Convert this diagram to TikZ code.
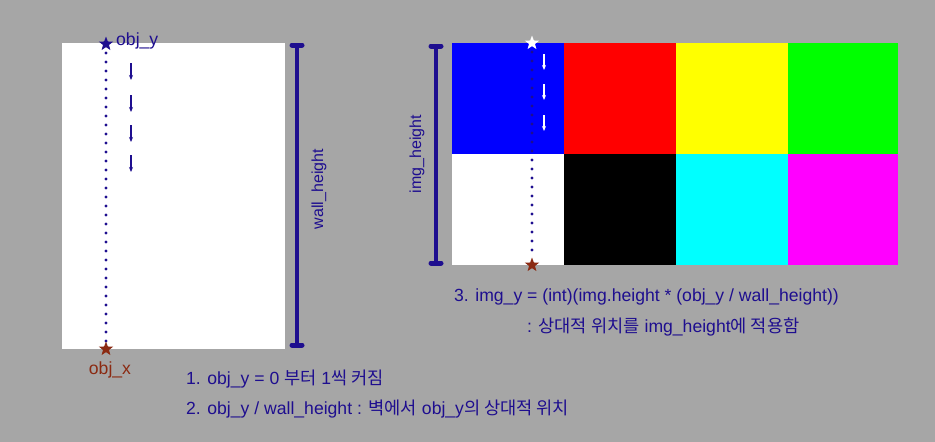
\documentclass[tikz,border=0pt]{standalone}
\usepackage{fontspec}
\setmainfont{Liberation Sans}
\newfontfamily\kr{Noto Sans CJK KR}
\usetikzlibrary{shapes.geometric,arrows.meta}
\definecolor{bg}{HTML}{A6A6A6}
\definecolor{navy}{HTML}{1E0E8F}
\definecolor{brn}{HTML}{8B2A12}
\definecolor{cblue}{HTML}{0000FF}
\definecolor{cred}{HTML}{FF0000}
\definecolor{cyel}{HTML}{FFFF00}
\definecolor{cgreen}{HTML}{00FF00}
\definecolor{ccyan}{HTML}{00FFFF}
\definecolor{cmag}{HTML}{FF00FF}
\tikzset{
  lbl/.style={font=\fontsize{17.6}{19}\selectfont, text=navy, inner sep=0pt},
  vlbl/.style={font=\fontsize{16}{18}\selectfont, text=navy, inner sep=0pt, rotate=90},
  starn/.style={star, star points=5, star point ratio=2.4, minimum size=15pt, inner sep=0pt, fill=#1, draw=none},
  dots/.style={navy, line width=3.4pt, line cap=round, dash pattern=on 0pt off 9pt},
  bar/.style={navy, line width=4pt},
  barcap/.style={navy, line width=5pt, line cap=round},
  down/.style={-{Stealth[length=5pt,width=4pt]}, line width=1.2pt, #1},
}
\begin{document}
\begin{tikzpicture}[x=1pt,y=-1pt]
\fill[bg] (0,0) rectangle (935,442);
\useasboundingbox (0,0) rectangle (935,442);
% left wall
\fill[white] (62,43) rectangle (285,349);
\coordinate (wt) at (106,44);
\coordinate (wb) at (106,349);
\draw[dots] (106,53) -- (106,342);
\node[starn=navy] (s1) at (wt) {};
\node[starn=brn] (s2) at (wb) {};
\node[lbl, anchor=west] (objy) at (116,41) {obj\_y};
\node[lbl, text=brn] (objx) at (110,370) {obj\_x};
\foreach \i/\y in {1/63,2/95,3/125,4/155}{
  \coordinate (la\i) at (131,\y);
  \coordinate (lb\i) at (131,\y+17);
  \draw[down=navy] (la\i) -- (lb\i);
}
% wall_height bar
\coordinate (wh1) at (297,45);
\coordinate (wh2) at (297,345);
\draw[bar] (wh1) -- (wh2);
\draw[barcap] (292,45) -- (302,45);
\draw[barcap] (292,345) -- (302,345);
\node[vlbl] (whl) at (319,189) {wall\_height};
% image
\fill[cblue] (452,43) rectangle (564,154);
\fill[cred] (564,43) rectangle (676,154);
\fill[cyel] (676,43) rectangle (788,154);
\fill[cgreen] (788,43) rectangle (898,154);
\fill[white] (452,154) rectangle (564,265);
\fill[black] (564,154) rectangle (676,265);
\fill[ccyan] (676,154) rectangle (788,265);
\fill[cmag] (788,154) rectangle (898,265);
\draw[dots] (532,52) -- (532,257);
\node[starn=white] (s3) at (532,43) {};
\node[starn=brn] (s4) at (532,265) {};
\foreach \i/\y in {1/54,2/84,3/115}{
  \coordinate (ra\i) at (544,\y);
  \coordinate (rb\i) at (544,\y+16);
  \draw[down=white] (ra\i) -- (rb\i);
}
% img_height bar
\coordinate (ih1) at (436,46);
\coordinate (ih2) at (436,263);
\draw[bar] (ih1) -- (ih2);
\draw[barcap] (431,46) -- (441,46);
\draw[barcap] (431,263) -- (441,263);
\node[vlbl] (ihl) at (417,154) {img\_height};
% texts
\node[lbl, anchor=west] (t1) at (186,379) {1. obj\_y = 0 {\kr 부터} 1{\kr 씩 커짐}};
\node[lbl, anchor=west] (t2) at (186,409) {2. obj\_y / wall\_height : {\kr 벽에서} obj\_y{\kr 의 상대적 위치}};
\node[lbl, anchor=west] (t3) at (454,297) {3. img\_y = (int)(img.height * (obj\_y / wall\_height))};
\node[lbl, anchor=west] (t4) at (527,327) {: {\kr 상대적 위치를} img\_height{\kr 에 적용함}};
\end{tikzpicture}
\end{document}
